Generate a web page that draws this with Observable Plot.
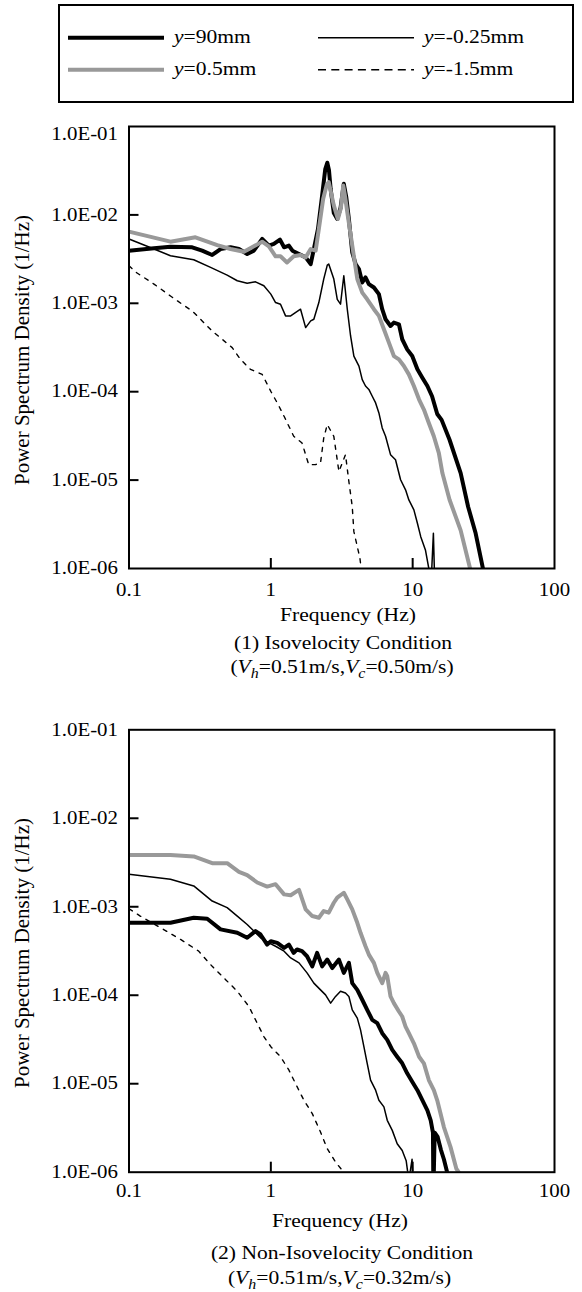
<!DOCTYPE html>
<html>
<head>
<meta charset="utf-8">
<script src="https://cdn.jsdelivr.net/npm/d3@7"></script>
<script src="https://cdn.jsdelivr.net/npm/@observablehq/plot@0.6"></script>
<style>
  html, body { margin: 0; padding: 0; background: #fff; }
  #page { position: relative; width: 582px; height: 1292px; overflow: hidden; background: #fff; }
  #page svg { position: absolute; left: 0; }
</style>
</head>
<body>
<div id="page"></div>
<script>
// ---- axis ticks ----
const freqTicks = [0.1, 1, 10, 100];
const freqTickLabels = ["0.1", "1", "10", "100"];
const psdTicks = [1e-1, 1e-2, 1e-3, 1e-4, 1e-5, 1e-6];
const psdTickLabels = ["1.0E-01", "1.0E-02", "1.0E-03", "1.0E-04", "1.0E-05", "1.0E-06"];
const innerFreqTicks = [1, 10];
const innerPsdTicks = [1e-2, 1e-3, 1e-4, 1e-5];

// ---- series ----
const seriesLabels = ["90mm", "-0.25mm", "0.5mm", "-1.5mm"];

// (1) Isovelocity condition: [frequency (Hz), PSD (1/Hz)]
const isoY90 = [[0.1,3.94e-3],[0.15,4.19e-3],[0.196,4.37e-3],[0.279,4.30e-3],[0.328,3.94e-3],[0.386,3.52e-3],[0.442,4.11e-3],[0.52,4.30e-3],[0.596,4.11e-3],[0.681,3.61e-3],[0.759,3.94e-3],[0.869,5.34e-3],[0.969,4.49e-3],[1.05,4.69e-3],[1.16,5.25e-3],[1.24,4.30e-3],[1.34,4.49e-3],[1.42,3.94e-3],[1.58,3.61e-3],[1.76,3.31e-3],[1.91,2.78e-3],[2.01,4.11e-3],[2.15,6.94e-3],[2.30,1.66e-2],[2.42,3.3e-2],[2.50,3.89e-2],[2.57,3.2e-2],[2.64,1.97e-2],[2.78,1.05e-2],[2.94,9.01e-3],[3.10,1.2e-2],[3.27,2.25e-2],[3.40,1.6e-2],[3.55,9.01e-3],[3.75,3.77e-3],[3.96,2.78e-3],[4.18,2.44e-3],[4.41,1.72e-3],[4.65,1.96e-3],[4.91,1.65e-3],[5.33,1.51e-3],[5.78,1.27e-3],[6.10,8.57e-4],[6.44,6.60e-4],[6.98,5.54e-4],[7.37,6.05e-4],[8.00,5.79e-4],[8.44,3.92e-4],[9.15,3.01e-4],[9.93,2.53e-4],[10.8,1.79e-4],[11.7,1.44e-4],[12.7,1.16e-4],[13.7,8.89e-5],[14.9,5.6e-5],[16.0,4.8e-5],[18.2,2.86e-5],[21.8,1.2e-5],[24.6,5.0e-6],[27.8,2.5e-6],[31.3,1.0e-6],[32,7e-7]];
const isoY05 = [[0.1,6.47e-3],[0.196,4.98e-3],[0.294,5.58e-3],[0.419,4.56e-3],[0.52,4.11e-3],[0.646,3.83e-3],[0.759,4.41e-3],[0.869,4.98e-3],[0.969,4.41e-3],[1.08,3.40e-3],[1.17,3.40e-3],[1.30,2.90e-3],[1.45,3.40e-3],[1.62,3.52e-3],[1.76,3.31e-3],[1.91,4.11e-3],[2.07,3.94e-3],[2.18,6.94e-3],[2.34,1.52e-2],[2.48,2.2e-2],[2.56,2.35e-2],[2.78,1.28e-2],[2.97,9.01e-3],[3.12,1.2e-2],[3.24,2.15e-2],[3.34,1.6e-2],[3.46,1.07e-2],[3.75,4.49e-3],[4.07,1.88e-3],[4.41,1.32e-3],[4.78,1.11e-3],[5.33,8.57e-4],[5.78,7.20e-4],[6.27,5.08e-4],[6.80,3.59e-4],[7.37,2.53e-4],[8.00,2.32e-4],[8.67,1.95e-4],[9.40,1.57e-4],[10.2,1.16e-4],[11.1,8.15e-5],[12.0,6.28e-5],[13.0,4.43e-5],[14.1,3.13e-5],[15.3,2.02e-5],[16.2,1.2e-5],[18.2,6.0e-6],[21.8,2.7e-6],[25.4,1.0e-6],[26.5,7e-7]];
const isoYm025 = [[0.1,5.34e-3],[0.15,4.11e-3],[0.196,3.45e-3],[0.286,3.11e-3],[0.376,2.55e-3],[0.492,2.08e-3],[0.58,1.80e-3],[0.681,1.69e-3],[0.78,1.75e-3],[0.893,1.58e-3],[1.0,1.27e-3],[1.08,1.02e-3],[1.17,9.77e-4],[1.27,7.20e-4],[1.38,7.20e-4],[1.49,7.85e-4],[1.62,8.57e-4],[1.76,5.31e-4],[1.91,6.32e-4],[2.01,6.60e-4],[2.18,1.02e-3],[2.36,1.88e-3],[2.50,2.7e-3],[2.56,2.78e-3],[2.78,1.88e-3],[2.94,1.11e-3],[3.10,9.77e-4],[3.27,2.05e-3],[3.46,8.57e-4],[3.65,4.27e-4],[3.85,2.53e-4],[4.18,1.95e-4],[4.41,1.37e-4],[4.65,1.16e-4],[4.91,1.06e-4],[5.19,8.89e-5],[5.48,7.47e-5],[5.78,5.75e-5],[6.10,3.89e-5],[6.44,3.13e-5],[6.98,1.94e-5],[7.57,1.70e-5],[8.22,1.01e-5],[8.91,7.76e-6],[9.40,5.97e-6],[10.2,4.60e-6],[10.8,3.25e-6],[11.4,2.29e-6],[12.3,1.62e-6],[13.0,1.0e-6],[13.5,7e-7],[14.0,2.5e-6],[14.3,7e-7]];
const isoYm15 = [[0.1,2.66e-3],[0.114,2.20e-3],[0.15,1.65e-3],[0.196,1.21e-3],[0.237,9.77e-4],[0.279,8.20e-4],[0.328,6.32e-4],[0.386,4.86e-4],[0.454,3.92e-4],[0.534,3.15e-4],[0.611,2.32e-4],[0.719,1.79e-4],[0.869,1.57e-4],[1.0,1.01e-4],[1.11,7.47e-5],[1.24,5.27e-5],[1.45,3.13e-5],[1.66,2.63e-5],[1.85,1.49e-5],[2.07,1.5e-5],[2.24,1.56e-5],[2.36,2.99e-5],[2.50,4.25e-5],[2.78,3.13e-5],[3.02,1.25e-5],[3.19,1.56e-5],[3.36,1.94e-5],[3.55,9.64e-6],[3.75,5.02e-6],[3.85,2.61e-6],[4.07,1.77e-6],[4.25,1.30e-6],[4.4,8e-7]];

// (2) Non-isovelocity condition
const nonY90 = [[0.1,6.59e-4],[0.196,6.59e-4],[0.286,7.52e-4],[0.356,7.32e-4],[0.442,5.55e-4],[0.58,5.08e-4],[0.681,4.46e-4],[0.78,5.31e-4],[0.846,4.86e-4],[0.942,3.74e-4],[1.0,4.08e-4],[1.11,3.91e-4],[1.24,3.43e-4],[1.34,3.74e-4],[1.45,3.01e-4],[1.53,3.29e-4],[1.66,3.15e-4],[1.80,2.76e-4],[1.96,2.12e-4],[2.12,3.01e-4],[2.30,2.12e-4],[2.50,2.53e-4],[2.71,2.03e-4],[3.02,2.53e-4],[3.27,1.79e-4],[3.55,2.32e-4],[3.75,1.37e-4],[4.07,1.15e-4],[4.41,8.89e-5],[4.78,6.84e-5],[5.19,5.27e-5],[5.63,4.83e-5],[6.10,3.72e-5],[6.62,3.13e-5],[7.18,2.41e-5],[7.78,2.02e-5],[8.44,1.70e-5],[9.15,1.31e-5],[9.93,1.05e-5],[10.8,8.45e-6],[11.7,6.51e-6],[12.7,5.01e-6],[13.4,3.86e-6],[13.9,2.8e-6],[14.0,6e-7],[14.3,2.8e-6],[15.0,2.5e-6],[15.8,1.8e-6],[16.6,1.4e-6],[17.5,1.0e-6],[18,7e-7]];
const nonY05 = [[0.1,3.84e-3],[0.196,3.84e-3],[0.286,3.71e-3],[0.386,3.11e-3],[0.492,3.11e-3],[0.596,2.48e-3],[0.681,2.28e-3],[0.802,1.88e-3],[0.942,1.69e-3],[1.08,1.80e-3],[1.24,1.38e-3],[1.38,1.35e-3],[1.58,1.55e-3],[1.76,9.35e-4],[1.96,7.85e-4],[2.18,7.52e-4],[2.36,8.95e-4],[2.56,8.57e-4],[2.78,1.11e-3],[2.94,1.27e-3],[3.10,1.35e-3],[3.27,1.44e-3],[3.46,1.21e-3],[3.75,9.35e-4],[4.07,6.59e-4],[4.29,5.08e-4],[4.65,3.58e-4],[4.91,2.88e-4],[5.33,2.32e-4],[5.63,1.79e-4],[6.10,1.37e-4],[6.44,1.79e-4],[6.62,1.64e-4],[6.98,9.70e-5],[7.37,8.15e-5],[8.00,6.55e-5],[8.44,5.75e-5],[8.91,4.43e-5],[9.40,3.72e-5],[10.2,2.86e-5],[11.1,2.02e-5],[12.0,1.70e-5],[13.0,1.10e-5],[14.1,8.45e-6],[14.9,6.5e-6],[16.6,3.24e-6],[18.5,1.92e-6],[20.3,1.1e-6],[21.1,1.0e-6],[21.8,7e-7]];
const nonYm025 = [[0.1,2.33e-3],[0.196,2.05e-3],[0.286,1.72e-3],[0.386,1.16e-3],[0.492,9.77e-4],[0.58,7.85e-4],[0.681,6.31e-4],[0.759,5.31e-4],[0.846,4.46e-4],[0.969,3.91e-4],[1.08,3.58e-4],[1.24,3.15e-4],[1.38,2.64e-4],[1.58,2.32e-4],[1.80,1.79e-4],[2.01,1.37e-4],[2.24,1.15e-4],[2.43,1.01e-4],[2.64,8.15e-5],[2.86,9.70e-5],[3.10,1.11e-4],[3.36,1.06e-4],[3.55,9.70e-5],[3.75,6.84e-5],[4.07,5.51e-5],[4.29,4.06e-5],[4.53,2.62e-5],[4.78,1.70e-5],[5.05,1.10e-5],[5.48,8.45e-6],[5.78,6.51e-6],[6.27,5.47e-6],[6.62,3.86e-6],[7.18,2.97e-6],[7.78,2.10e-6],[8.44,1.76e-6],[9.0,1.35e-6],[9.4,8e-7],[9.9,1.4e-6],[10.1,7e-7]];
const nonYm15 = [[0.1,9.5e-4],[0.12,7.85e-4],[0.167,5.80e-4],[0.231,4.27e-4],[0.31,3.15e-4],[0.386,2.12e-4],[0.48,1.50e-4],[0.58,1.11e-4],[0.70,7.47e-5],[0.802,4.83e-5],[0.893,3.41e-5],[1.0,2.62e-5],[1.17,2.02e-5],[1.34,1.43e-5],[1.49,1.01e-5],[1.71,6.51e-6],[1.96,4.59e-6],[2.24,2.85e-6],[2.50,1.84e-6],[2.86,1.30e-6],[3.27,1.0e-6],[3.5,8e-7]];

const captions = [
  {title: "(1) Isovelocity Condition", vc: "0.50"},
  {title: "(2) Non-Isovelocity Condition", vc: "0.32"}
];

// line styles per measuring height
const styles = {
  y90:   {stroke: "#000", strokeWidth: 4},
  y05:   {stroke: "#999", strokeWidth: 4},
  ym025: {stroke: "#000", strokeWidth: 1.5},
  ym15:  {stroke: "#000", strokeWidth: 1.4, strokeDasharray: "4,6"}
};

const FONT = "'Liberation Serif', 'Times New Roman', serif";
const WIDE = 1.1;      // the typeface in this figure runs a little wide
const page = document.getElementById("page");

// stretch tick labels horizontally about their anchor point
function widenLabels(svg, sx) {
  for (const t of svg.querySelectorAll("text")) {
    if (!t.textContent) continue;
    const tr = t.getAttribute("transform");
    if (tr && tr.includes("translate")) t.setAttribute("transform", `${tr} scale(${sx},1)`);
  }
}

function spectrumPlot(sets, top, height, marginTop, marginBottom, labelPad, topLabelShift) {
  const lineMark = (data, st) => Plot.line(data, {x: d => d[0], y: d => d[1], clip: true, strokeLinejoin: "round", ...st});
  const svg = Plot.plot({
    width: 582, height,
    marginLeft: 128.5, marginRight: 28, marginTop, marginBottom,
    style: {fontFamily: FONT, fontSize: "18px", color: "#000", background: "transparent", overflow: "visible"},
    x: {type: "log", domain: [0.1, 100]},
    y: {type: "log", domain: [1e-6, 1e-1]},
    marks: [
      lineMark(sets.y90, styles.y90),
      lineMark(sets.y05, styles.y05),
      lineMark(sets.ym025, styles.ym025),
      lineMark(sets.ym15, styles.ym15),
      Plot.axisX({ticks: freqTicks, tickFormat: d => freqTickLabels[freqTicks.indexOf(d)], tickSize: 0, tickPadding: labelPad, label: null, fontSize: 18}),
      Plot.axisX({ticks: innerFreqTicks, tickFormat: () => "", tickSize: 10, dy: -10, strokeWidth: 2, label: null}),
      Plot.axisY({ticks: psdTicks, tickFormat: d => psdTickLabels[psdTicks.indexOf(d)], tickSize: 0, tickPadding: 11, label: null, fontSize: 18}),
      Plot.axisY({ticks: innerPsdTicks, tickFormat: () => "", tickSize: 10, dx: 10, strokeWidth: 2, label: null}),
      Plot.frame({stroke: "#000", strokeWidth: 2})
    ]
  });
  if (topLabelShift) {
    for (const t of svg.querySelectorAll("text")) {
      if (t.textContent === psdTickLabels[0]) {
        t.setAttribute("transform", `${t.getAttribute("transform") || ""} translate(0,${topLabelShift})`);
      }
    }
  }
  widenLabels(svg, 1.16);
  svg.style.top = top + "px";
  page.appendChild(svg);
}

spectrumPlot({y90: isoY90, y05: isoY05, ym025: isoYm025, ym15: isoYm15}, 110, 500, 16, 42, 15, 8);
spectrumPlot({y90: nonY90, y05: nonY05, ym025: nonYm025, ym15: nonYm15}, 710, 500, 19.3, 38.3, 12.5, 0);

// ---- legend, axis titles and captions ----
const overlay = d3.create("svg")
  .attr("width", 582).attr("height", 1292)
  .style("top", "0px")
  .attr("font-family", FONT)
  .attr("font-size", 19.6)
  .attr("fill", "#000");

// text placed at (x, y) and widened about its anchor
const textAt = (x, y, anchor = "start") => overlay.append("text")
  .attr("transform", `translate(${x},${y}) scale(${WIDE},1)`)
  .attr("text-anchor", anchor);

overlay.append("rect")
  .attr("x", 59).attr("y", 5).attr("width", 514).attr("height", 97)
  .attr("fill", "none").attr("stroke", "#000").attr("stroke-width", 2);

const legendItems = [
  {label: seriesLabels[0], st: styles.y90,   x: 68,  y: 37.7},
  {label: seriesLabels[1], st: styles.ym025, x: 318, y: 37.7},
  {label: seriesLabels[2], st: styles.y05,   x: 68,  y: 69.8},
  {label: seriesLabels[3], st: {...styles.ym15, strokeDasharray: "8,5.3"}, x: 318, y: 69.8}
];
for (const it of legendItems) {
  overlay.append("line")
    .attr("x1", it.x).attr("x2", it.x + 96).attr("y1", it.y).attr("y2", it.y)
    .attr("stroke", it.st.stroke).attr("stroke-width", it.st.strokeWidth)
    .attr("stroke-dasharray", it.st.strokeDasharray || null);
  const t = textAt(it.x + 106, it.y + 5.1);
  t.append("tspan").attr("font-style", "italic").text("y");
  t.append("tspan").text("=" + it.label);
}

function ytitle(cy) {
  overlay.append("text")
    .attr("transform", `translate(29,${cy}) rotate(-90)`)
    .attr("text-anchor", "middle")
    .attr("font-size", 21)
    .text("Power Spectrum Density (1/Hz)");
}
function xtitle(cx, y) {
  textAt(cx, y, "middle").text("Frequency (Hz)");
}
function caption(c, cx1, y1, cx2, y2) {
  textAt(cx1, y1, "middle").text(c.title);
  const t = textAt(cx2, y2, "middle");
  t.append("tspan").text("(");
  t.append("tspan").attr("font-style", "italic").text("V");
  t.append("tspan").attr("font-style", "italic").attr("font-size", 14.5).attr("dy", 5).text("h");
  t.append("tspan").attr("dy", -5).text("=0.51m/s,");
  t.append("tspan").attr("font-style", "italic").text("V");
  t.append("tspan").attr("font-style", "italic").attr("font-size", 14.5).attr("dy", 5).text("c");
  t.append("tspan").attr("dy", -5).text("=" + c.vc + "m/s)");
}

ytitle(350);
xtitle(348, 621);
caption(captions[0], 343, 649, 342, 673);

ytitle(953);
xtitle(340, 1226.5);
caption(captions[1], 342, 1259, 339.5, 1284);

page.appendChild(overlay.node());
</script>
</body>
</html>
